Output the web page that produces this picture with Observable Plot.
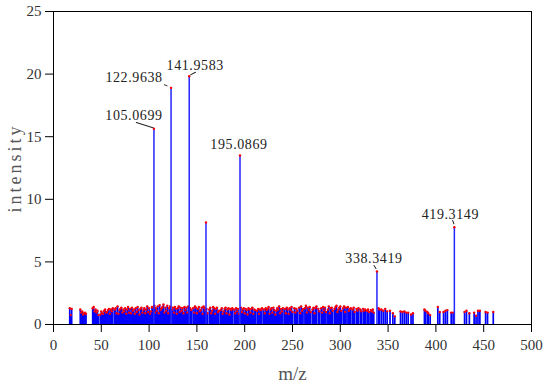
<!DOCTYPE html>
<html>
<head>
<meta charset="utf-8">
<script src="https://cdn.jsdelivr.net/npm/d3@7"></script>
<script src="https://cdn.jsdelivr.net/npm/@observablehq/plot@0.6"></script>
<style>
  html, body { margin: 0; padding: 0; background: #fff; }
  #chart svg { display: block; }
</style>
</head>
<body>
<div id="chart"></div>
<script>
// ---- data ----
const xTicks = [0, 50, 100, 150, 200, 250, 300, 350, 400, 450, 500];
const yTicks = [0, 5, 10, 15, 20, 25];
const xLabel = "m/z";
const yLabel = "intensity";

// main peaks
const peakMz = [105.0699, 122.9638, 141.9583, 159.5, 195.0869, 338.3419, 419.3149];
const peakInt = [15.63, 18.9, 19.83, 8.15, 13.5, 4.23, 7.77];
const peakLabel = ["105.0699", "122.9638", "141.9583", "", "195.0869", "338.3419", "419.3149"];

// background noise peaks [m/z, intensity]
const noiseDense = [
  [17,1.3],[18,0.75],[19,1.25],
  [28,1.2],[29,0.95],[30,1.05],[31,0.8],[32,0.9],[33,0.95],[34,0.85],
  [41,1.3],[42,1.4],[43,1.05],[44,1.2],[45,0.95],[46,1.1],[47,0.75],
  [49,0.8],[50,1.05],[51,0.9],[52,0.85],[53,1.1],[54,1.2],[55,0.95],[56,1.0],[57,1.15],[58,1.25],[59,0.85],[60,1.2],[61,1.05],[62,1.3],
  [64,1.2],[65,1.3],[66,0.9],[67,1.45],[68,0.85],[69,1.15],[70,1.25],[71,1.35],[72,0.95],[73,1.2],
  [74,1.05],[75,1.3],[76,0.85],[77,1.2],[78,1.4],[79,0.95],[80,1.25],[81,0.9],[82,1.35],[83,1.1],
  [84,1.2],[85,0.85],[86,1.3],[87,1.0],[88,1.4],[89,1.15],[90,0.8],[91,1.25],[92,1.35],[93,0.95],
  [94,1.15],[95,1.3],[96,0.9],[97,1.2],[98,1.45],[99,1.0],[100,1.3],[101,0.85],[102,1.05],[103,1.4],
  [104,1.35],[105.5,1.5],[106,0.95],[107,1.3],[108,1.1],[109,1.45],[110,0.9],[111,1.55],[112,1.15],[113,1.3],
  [114,1.4],[115,1.6],[116,0.95],[117,1.35],[118,1.1],[119,1.5],[120,0.9],[121,1.3],[122,1.45],[124,1.2],
  [125,1.35],[126,0.95],[127,1.4],[128,1.25],[129,0.85],[130,1.3],[131,1.45],[132,1.0],[133,1.35],[134,1.1],
  [135,1.3],[136,0.9],[137,1.4],[138,1.15],[139,1.35],[140,0.95],[141,1.45],[143,1.3],[144,1.15],
  [146,1.3],[147,0.95],[148,1.45],[149,1.35],[150,0.9],[151,1.25],[152,1.4],[153,1.05],[154,1.15],[155,1.35],[156,0.85],[157,1.45],[158,1.3],[159,1.1],[160,1.25],[161,0.9],
  [163,1.2],[164,1.35],[165,0.9],[166,1.1],[167,1.4],[168,1.3],[169,0.85],[170,1.25],[171,1.35],[172,1.0],[173,1.1],
  [175,1.15],[176,1.3],[177,0.85],[178,1.05],[179,1.25],[180,1.35],[181,0.9],[182,1.2],[183,1.3],[184,0.8],[185,1.25],[186,1.15],[187,1.3],
  [189,1.2],[190,0.9],[191,1.3],[192,1.05],[193,1.25],[194,0.85],[196,1.35],[197,1.0],[198,1.2],[199,1.3],[200,0.9],[201,1.25],[202,1.15],[203,0.8],[204,1.3],[205,1.2],[206,0.95],[207,1.25],[208,1.35],[209,0.85],[210,1.2],[211,1.15],
  [213,1.1],[214,1.25],[215,0.85],[216,1.2],[217,1.15],[218,1.3],
  [220,1.2],[221,0.9],[222,1.3],[223,1.15],[224,1.25],[225,1.4],[226,0.85],[227,1.2],[228,1.3],[229,0.95],[230,1.35],[231,1.15],[232,0.8],[233,1.1],[234,1.3],[235,1.2],[236,1.45],[237,0.9],[238,1.25],[239,1.05],[240,1.3],
  [242,1.25],[243,0.9],[244,1.35],[245,1.2],[246,0.85],[247,1.3],[248,1.15],[249,1.4],[250,1.0],
  [252,1.3],[253,0.95],[254,1.25],[255,1.1],
  [257,1.35],[258,0.9],[259,1.45],[260,1.1],[261,1.25],
  [263,1.3],[264,1.5],[265,0.95],[266,1.35],[267,1.15],[268,1.4],[269,1.0],
  [271,1.2],[272,1.35],[273,0.9],[274,1.3],[275,1.45],
  [277,1.25],[278,1.05],
  [280,1.3],[281,0.95],[282,1.4],[283,1.15],[284,1.35],[285,1.0],
  [287,1.2],[288,1.45],[289,0.9],[290,1.3],[291,1.35],[292,1.1],
  [294,1.25],[295,1.4],[296,1.5],[297,1.0],[298,1.2],[299,1.35],[300,1.45],[301,1.1],
  [303,1.3],[304,1.45],[305,1.0],[306,1.35],
  [308,1.4],[309,1.1],[310,1.25],[311,1.3],
  [313,1.2],[314,1.35],[315,1.0],
  [317,1.25],[318,1.1],[319,1.3],
  [321,1.2],[322,1.05],
  [324,1.25],[325,1.1],[326,1.2],
  [328,1.1],[329,1.2],[330,1.0],
  [332,1.15],[333,1.05],[334,1.2],[335,0.95]
];
const noiseSparse = [
  [340,1.3],[341,1.2],[343,1.2],[345,1.1],[347,1.25],[349,1.05],[352,1.1],[355,0.9],[357,0.65],
  [363,1.05],[365,1.0],[367,1.05],[369,0.95],[371,0.95],[374,0.8],[376,0.9],
  [388,1.2],[389,1.1],[391,1.0],[392,0.9],[394,0.75],
  [402,1.4],[404,1.0],
  [408,1.0],[410,1.1],[412,1.15],
  [416,0.95],[418,0.95],
  [430,1.0],[432,1.1],[435,0.9],
  [440,0.95],[442,0.7],[444,1.1],[446,1.1],
  [452,1.0],[454,0.95],
  [460,1.0]
];

// ---- styles for labels (pixel offsets, leader length & angle) ----
const labelStyle = [
  {dx: -20, dy: -13, ldx: -1, ldy: -1, len: 17.5, rot: 288},
  {dx: -37, dy: -10, ldx: -4, ldy: -2, len: 3, rot: 294},
  {dx: 6, dy: -11, ldx: 1.3, ldy: -1.4, len: 5.6, rot: 62},
  null,
  {dx: -1, dy: -11, ldx: 0, ldy: 0, len: 0, rot: 0},
  {dx: -3, dy: -13, ldx: -1, ldy: -3, len: 3.6, rot: 326},
  {dx: -4, dy: -13, ldx: -0.5, ldy: -3.5, len: 3.5, rot: 340}
];

const noise = noiseDense.concat(noiseSparse).map(([mz, h]) => ({mz, h}));
const peaks = peakMz.map((mz, i) => ({mz, h: peakInt[i], label: peakLabel[i]}));

const labelMarks = [];
peaks.forEach((p, i) => {
  const s = labelStyle[i];
  if (!p.label || !s) return;
  labelMarks.push(Plot.text([p], {
    x: "mz", y: "h", text: "label", dx: s.dx, dy: s.dy,
    fontSize: 14, fill: "#222", textAnchor: "middle", lineAnchor: "middle"
  }));
  if (s.len > 0) {
    labelMarks.push(Plot.vector([p], {
      x: "mz", y: "h", length: () => s.len, rotate: s.rot, anchor: "start",
      dx: s.ldx, dy: s.ldy, stroke: "#222", strokeWidth: 1, r: 0
    }));
  }
});

const chart = Plot.plot({
  width: 550,
  height: 385,
  marginLeft: 53,
  marginRight: 19,
  marginTop: 11,
  marginBottom: 61,
  style: {fontFamily: "'Liberation Serif', 'DejaVu Serif', serif", fontSize: "15px", background: "#fff"},
  x: {domain: [0, 500]},
  y: {domain: [0, 25]},
  length: {type: "identity"},
  marks: [
    Plot.ruleX(noise, {x: "mz", y1: 0, y2: "h", stroke: "#0000ff", strokeWidth: 1.7}),
    Plot.dot(noise, {x: "mz", y: "h", r: 1.2, fill: "#ff0000", stroke: "none"}),
    Plot.ruleX(peaks, {x: "mz", y1: 0, y2: "h", stroke: "#2525ff", strokeWidth: 1.5}),
    Plot.dot(peaks, {x: "mz", y: "h", r: 1.2, fill: "#ff0000", stroke: "none"}),
    ...labelMarks,
    Plot.frame({stroke: "#000", strokeWidth: 1}),
    Plot.axisX({ticks: xTicks, tickSize: 8, tickPadding: 7, label: null, fill: "#333", stroke: "#000", fontSize: 15}),
    Plot.axisY({ticks: yTicks, tickSize: 8, tickPadding: 4, label: null, fill: "#333", stroke: "#000", fontSize: 15}),
    Plot.text([xLabel], {frameAnchor: "bottom", dy: 49, fontSize: 19, fill: "#555", textAnchor: "middle", lineAnchor: "middle"}),
    Plot.text([yLabel], {frameAnchor: "left", dx: -38, rotate: -90, fontSize: 18, fill: "#555", textAnchor: "middle", lineAnchor: "middle"})
  ]
});
const svgSel = d3.select(chart);
svgSel.selectAll("text").filter(function() { return peakLabel.includes(this.textContent) && this.textContent !== ""; })
  .style("letter-spacing", "0.6px");
svgSel.selectAll("text").filter(function() { return this.textContent === yLabel; })
  .style("letter-spacing", "3px");
document.getElementById("chart").appendChild(chart);
</script>
</body>
</html>
